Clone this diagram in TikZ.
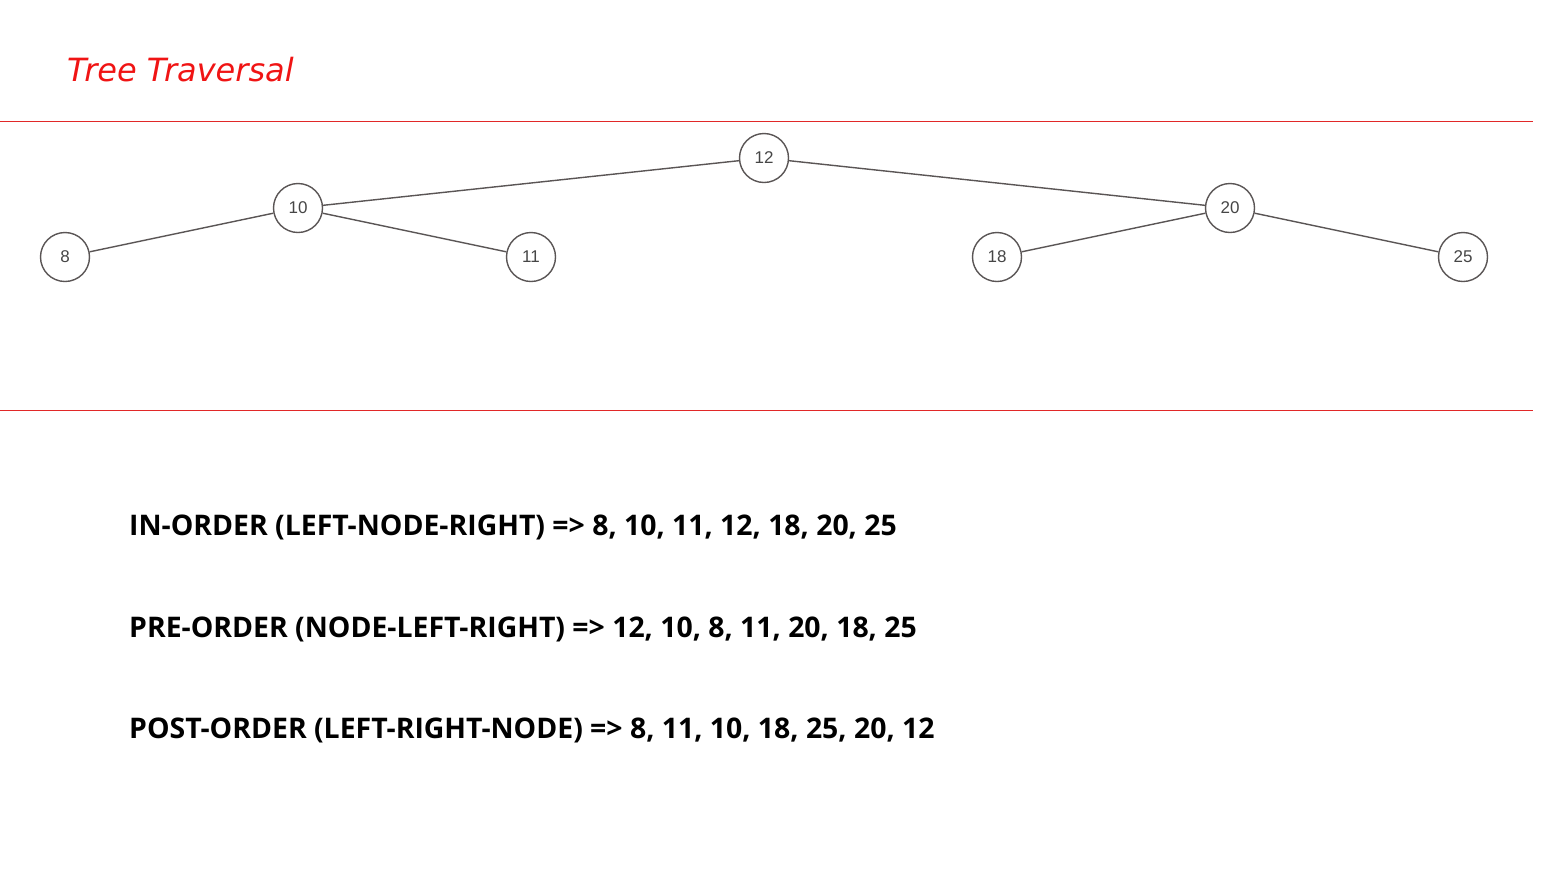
\documentclass[tikz,border=0pt]{standalone}
\usepackage{fontspec}
\setmainfont{Open Sans}
\newfontfamily\nodefont{Liberation Sans}
\newfontfamily\titlefont{DejaVu Sans}
\definecolor{linered}{RGB}{225,40,40}
\definecolor{titlered}{RGB}{240,20,20}
\definecolor{nodegray}{RGB}{90,85,85}
\definecolor{labelgray}{RGB}{70,70,70}
\begin{document}
\begin{tikzpicture}[x=1pt,y=-1pt,
  tnode/.style={circle,draw=nodegray,line width=1.4pt,minimum size=49pt,inner sep=0pt,
    font=\nodefont\fontsize{17}{19}\selectfont,text=labelgray,fill=white},
  tedge/.style={draw=nodegray,line width=1.4pt},
  sepline/.style={draw=linered,line width=1.1pt},
  trav/.style={anchor=west,font=\bfseries\fontsize{28.4}{32}\selectfont,inner sep=0pt}]
\useasboundingbox (0,0) rectangle (1565,879);
\fill[white] (0,0) rectangle (1565,879);
\node[anchor=west,inner sep=0pt,text=titlered,font=\titlefont\itshape\fontsize{32}{36}\selectfont] (title) at (67,70) {Tree Traversal};
\coordinate (l1a) at (0,121.5); \coordinate (l1b) at (1533,121.5);
\coordinate (l2a) at (0,410.5); \coordinate (l2b) at (1533,410.5);
\draw[sepline] (l1a) -- (l1b);
\draw[sepline] (l2a) -- (l2b);
\node[tnode] (n12) at (764,158) {12};
\node[tnode] (n10) at (298,208) {10};
\node[tnode] (n20) at (1230,208) {20};
\node[tnode] (n8) at (65,257) {8};
\node[tnode] (n11) at (531,257) {11};
\node[tnode] (n18) at (997,257) {18};
\node[tnode] (n25) at (1463,257) {25};
\draw[tedge] (n12) -- (n10);
\draw[tedge] (n12) -- (n20);
\draw[tedge] (n10) -- (n8);
\draw[tedge] (n10) -- (n11);
\draw[tedge] (n20) -- (n18);
\draw[tedge] (n20) -- (n25);
\node[trav] (t1) at (129,527) {IN-ORDER (LEFT-NODE-RIGHT) => 8, 10, 11, 12, 18, 20, 25};
\node[trav] (t2) at (129,629) {PRE-ORDER (NODE-LEFT-RIGHT) => 12, 10, 8, 11, 20, 18, 25};
\node[trav] (t3) at (129,730) {POST-ORDER (LEFT-RIGHT-NODE) => 8, 11, 10, 18, 25, 20, 12};
\end{tikzpicture}
\end{document}
